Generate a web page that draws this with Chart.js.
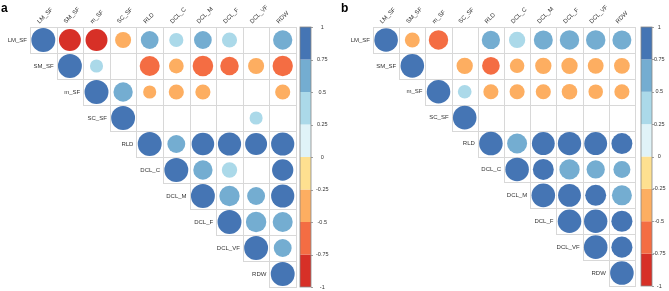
<!DOCTYPE html>
<html lang="en">
<head>
<meta charset="UTF-8">
<title>Correlation matrices</title>
<script src="https://cdn.jsdelivr.net/npm/chart.js"></script>
<style>
  body { margin: 0; background: #fff; width: 669px; height: 291px; overflow: hidden; }
  .panel { position: absolute; top: 0; height: 291px; }
  #wrapA { left: 0; width: 335px; }
  #wrapB { left: 335px; width: 334px; }
</style>
</head>
<body>
<div class="panel" id="wrapA"><canvas id="chartA"></canvas></div>
<div class="panel" id="wrapB"><canvas id="chartB"></canvas></div>
<script>
const vars = ['LM_SF', 'SM_SF', 'm_SF', 'SC_SF', 'RLD', 'DCL_C', 'DCL_M', 'DCL_F', 'DCL_VF', 'RDW'];

// upper triangle only: row i starts at the diagonal, null = blank (not significant)
const corrA = [
  [1, -0.84, -0.84, -0.45, 0.55, 0.35, 0.55, 0.4, null, 0.65],
  [1, 0.3, null, -0.7, -0.38, -0.74, -0.6, -0.45, -0.72],
  [1, 0.65, -0.3, -0.4, -0.4, null, null, -0.4],
  [1, null, null, null, null, 0.3, null],
  [1, 0.56, 0.89, 0.94, 0.84, 0.94],
  [1, 0.65, 0.41, null, 0.79],
  [1, 0.72, 0.56, 0.94],
  [1, 0.73, 0.7],
  [1, 0.56],
  [1]
];
const corrB = [
  [1, -0.4, -0.68, null, 0.6, 0.48, 0.65, 0.68, 0.68, 0.65],
  [1, null, -0.48, -0.56, -0.38, -0.48, -0.48, -0.45, -0.45],
  [1, 0.34, -0.41, -0.41, -0.41, -0.44, -0.38, -0.41],
  [1, null, null, null, null, null, null],
  [1, 0.72, 0.94, 0.98, 0.94, 0.79],
  [1, 0.79, 0.74, 0.6, 0.52],
  [1, 0.94, 0.79, 0.72],
  [1, 0.98, 0.8],
  [1, 0.8],
  [1]
];

// colour key
const colorBreaks = [-1, -0.75, -0.5, -0.25, 0, 0.25, 0.5, 0.75, 1];
const palette = ['#D73027', '#F46D43', '#FDAE61', '#FEE090', '#E0F3F8', '#ABD9E9', '#74ADD1', '#4575B4'];

const FONT = '"Liberation Sans", Arial, sans-serif';
const TXT = '#333';

function colorFor(v) {
  for (let k = 0; k < palette.length; k++) {
    if (v <= colorBreaks[k + 1]) return palette[k];
  }
  return palette[palette.length - 1];
}

function toPoints(corr) {
  const pts = [];
  corr.forEach((row, i) => {
    row.forEach((v, k) => {
      if (v !== null) pts.push({ x: i + k, y: i, v: v });
    });
  });
  return pts;
}

function noPad(s) {
  s.paddingTop = 0;
  s.paddingBottom = 0;
  s.paddingLeft = 0;
  s.paddingRight = 0;
}

function circleRadius(ctx) {
  const xs = ctx.chart.scales.x;
  const cw = Math.abs(xs.getPixelForValue(1) - xs.getPixelForValue(0));
  return 0.45 * cw * Math.sqrt(Math.abs(ctx.raw.v));
}

function makePanel(id, letter, corr, g) {
  const decor = {
    id: 'decor' + letter,
    beforeDatasetsDraw(chart) {
      const c = chart.ctx, xs = chart.scales.x, ys = chart.scales.y;
      c.save();
      c.strokeStyle = '#d8d8d8';
      c.lineWidth = 1;
      for (let i = 0; i < vars.length; i++) {
        for (let j = i; j < vars.length; j++) {
          const x0 = Math.round(xs.getPixelForValue(j - 0.5)) + 0.5;
          const x1 = Math.round(xs.getPixelForValue(j + 0.5)) + 0.5;
          const y0 = Math.round(ys.getPixelForValue(i - 0.5)) + 0.5;
          const y1 = Math.round(ys.getPixelForValue(i + 0.5)) + 0.5;
          c.strokeRect(x0, y0, x1 - x0, y1 - y0);
        }
      }
      c.restore();
    },
    afterDraw(chart) {
      const c = chart.ctx, xs = chart.scales.x, ys = chart.scales.y, cb = chart.scales.cb;
      c.save();
      // row labels next to the diagonal
      c.font = '6px ' + FONT;
      c.fillStyle = TXT;
      c.textAlign = 'right';
      c.textBaseline = 'middle';
      vars.forEach((name, i) => {
        c.fillText(name, xs.getPixelForValue(i - 0.5) - 3, ys.getPixelForValue(i));
      });
      // colour bar
      const bx = cb.left + g.barGap, bw = 11;
      for (let k = 0; k < palette.length; k++) {
        const ya = cb.getPixelForValue(colorBreaks[k]);
        const yb = cb.getPixelForValue(colorBreaks[k + 1]);
        c.fillStyle = palette[k];
        c.fillRect(bx, yb, bw, ya - yb);
      }
      c.strokeStyle = '#888';
      c.lineWidth = 0.8;
      c.strokeRect(bx, cb.top, bw, cb.bottom - cb.top);
      colorBreaks.forEach(b => {
        const y = Math.round(cb.getPixelForValue(b)) + 0.5;
        c.beginPath();
        c.moveTo(bx + bw, y);
        c.lineTo(bx + bw + 2, y);
        c.stroke();
      });
      // panel letter
      c.font = 'bold 12px ' + FONT;
      c.fillStyle = '#000';
      c.textAlign = 'left';
      c.textBaseline = 'alphabetic';
      c.fillText(letter, g.letterX, 12);
      c.restore();
    }
  };

  return new Chart(document.getElementById(id), {
    type: 'scatter',
    data: {
      datasets: [{
        data: toPoints(corr),
        pointStyle: 'circle',
        pointBorderWidth: 0,
        pointBackgroundColor: ctx => colorFor(ctx.raw.v),
        pointRadius: circleRadius,
        pointHoverRadius: circleRadius
      }]
    },
    options: {
      responsive: true,
      maintainAspectRatio: false,
      animation: false,
      layout: { autoPadding: false, padding: { left: g.left, top: 0, right: 0, bottom: g.bottom } },
      plugins: { legend: { display: false }, tooltip: { enabled: false } },
      scales: {
        x: {
          type: 'linear',
          position: 'top',
          min: -0.5,
          max: 9.5,
          afterBuildTicks: s => { s.ticks = vars.map((_, i) => ({ value: i })); },
          afterFit: s => { s.height = g.top; noPad(s); },
          ticks: {
            autoSkip: false,
            minRotation: 45,
            maxRotation: 45,
            padding: 2,
            color: TXT,
            font: { family: FONT, size: 6 },
            callback: (v, i) => vars[i]
          },
          grid: { display: false, drawTicks: false },
          border: { display: false }
        },
        y: {
          type: 'linear',
          min: -0.5,
          max: 9.5,
          reverse: true,
          display: false
        },
        cb: {
          type: 'linear',
          axis: 'y',
          position: 'right',
          min: -1,
          max: 1,
          afterBuildTicks: s => { s.ticks = colorBreaks.map(v => ({ value: v })); },
          afterFit: s => { s.width = g.right; noPad(s); },
          ticks: {
            crossAlign: 'center',
            padding: g.labelPad,
            color: TXT,
            font: { family: FONT, size: 5.5 },
            callback: v => String(v)
          },
          grid: { display: false, drawTicks: false },
          border: { display: false }
        }
      }
    },
    plugins: [decor]
  });
}

makePanel('chartA', 'a', corrA, { left: 30, top: 27, bottom: 4, right: 39, barGap: 4, labelPad: 20, letterX: 1 });
makePanel('chartB', 'b', corrB, { left: 38, top: 27, bottom: 5, right: 34, barGap: 6, labelPad: 18, letterX: 6 });
</script>
</body>
</html>
